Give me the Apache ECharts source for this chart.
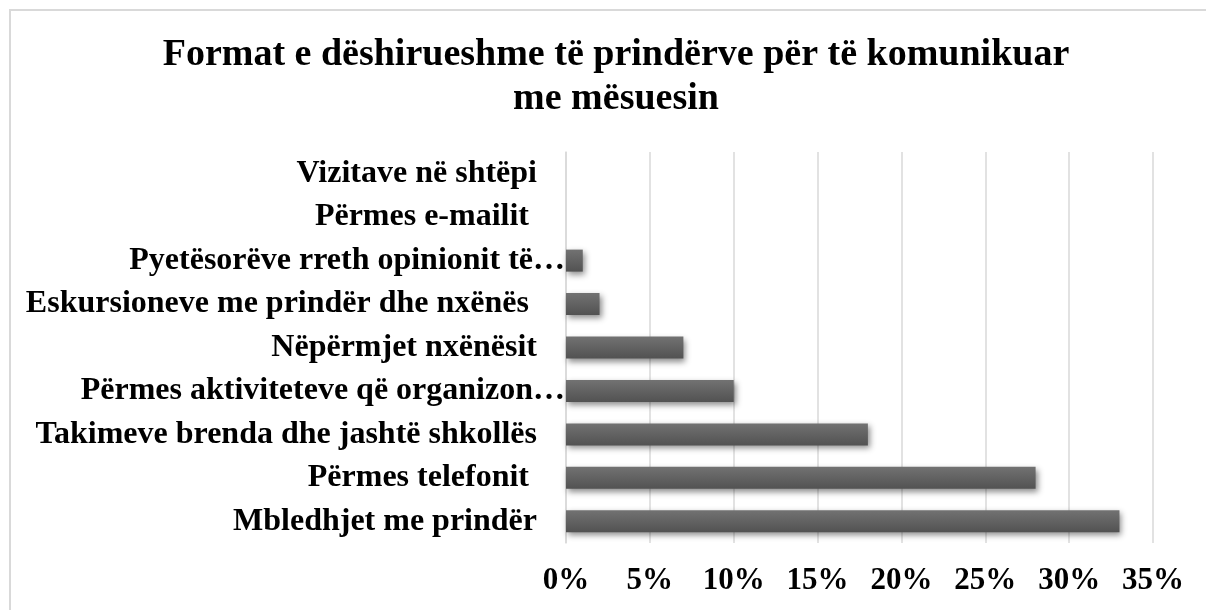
<!DOCTYPE html>
<html>
<head>
    <meta charset="utf-8">
    <title>Format e dëshirueshme</title>
    <script src="https://cdn.jsdelivr.net/npm/echarts@6/dist/echarts.min.js"></script>
    <style>
        html, body { margin: 0; padding: 0; background: #fff; }
        #frame {
            position: absolute;
            left: 9px;
            top: 9px;
            width: 1197px;
            height: 601px;
            border-left: 2px solid #d9d9d9;
            border-top: 2px solid #d9d9d9;
        }
        #main {
            position: absolute;
            left: 0;
            top: 0;
            width: 1206px;
            height: 610px;
        }
    </style>
</head>
<body>
    <div id="frame"></div>
    <div id="main"></div>
    <script type="text/javascript">
        // categories from top to bottom as in the picture
        var categories = [
            'Vizitave në shtëpi',
            'Përmes e-mailit ',
            'Pyetësorëve rreth opinionit të…',
            'Eskursioneve me prindër dhe nxënës ',
            'Nëpërmjet nxënësit',
            'Përmes aktiviteteve që organizon…',
            'Takimeve brenda dhe jashtë shkollës',
            'Përmes telefonit ',
            'Mbledhjet me prindër'
        ];
        // percent of parents
        var values = [0, 0, 1, 2, 7, 10, 18, 28, 33];
        var tickMin = 0, tickMax = 35, tickStep = 5;

        var serif = '"Liberation Serif", "Times New Roman", Times, serif';

        // cut-off labels run up to the axis, like in the original
        var axisData = categories.map(function (c) {
            if (c.slice(-1) === '…') {
                return { value: c, textStyle: { padding: [0, -28, 0, 0] } };
            }
            return c;
        });

        var myChart = echarts.init(document.getElementById('main'));
        myChart.setOption({
            animation: false,
            title: {
                text: 'Format e dëshirueshme të prindërve për të komunikuar\nme mësuesin',
                left: 611,
                textAlign: 'center',
                top: 28,
                textStyle: {
                    fontFamily: serif,
                    fontWeight: 'bold',
                    fontSize: 38,
                    lineHeight: 44,
                    color: '#000'
                }
            },
            grid: {
                left: 566,
                right: 53,
                top: 152,
                bottom: 67,
                outerBoundsMode: 'none'
            },
            xAxis: {
                type: 'value',
                min: tickMin,
                max: tickMax,
                interval: tickStep,
                axisLine: { show: false },
                axisTick: { show: false },
                splitLine: { lineStyle: { color: '#d9d9d9', width: 1.5 } },
                axisLabel: {
                    formatter: '{value}%',
                    margin: 22,
                    fontFamily: serif,
                    fontWeight: 'bold',
                    fontSize: 31,
                    color: '#000'
                }
            },
            yAxis: {
                type: 'category',
                inverse: true,
                data: axisData,
                axisLine: { show: true, lineStyle: { color: '#d9d9d9', width: 1.5 } },
                axisTick: { show: false },
                axisLabel: {
                    margin: 29,
                    fontFamily: serif,
                    fontWeight: 'bold',
                    fontSize: 32,
                    color: '#000'
                }
            },
            series: [{
                type: 'bar',
                data: values,
                barWidth: 22,
                itemStyle: {
                    color: new echarts.graphic.LinearGradient(0, 0, 0, 1, [
                        { offset: 0, color: '#727272' },
                        { offset: 1, color: '#525252' }
                    ]),
                    shadowColor: 'rgba(0,0,0,0.45)',
                    shadowBlur: 6,
                    shadowOffsetX: 2,
                    shadowOffsetY: 3
                }
            }]
        });
    </script>
</body>
</html>
